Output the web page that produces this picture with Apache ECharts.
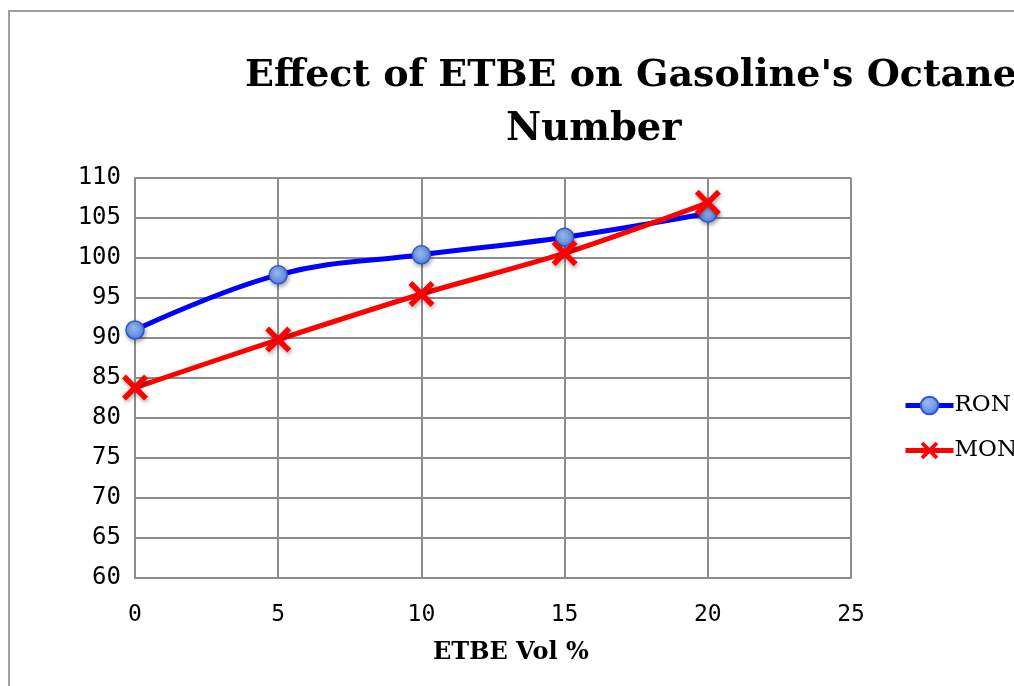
<!DOCTYPE html>
<html>
<head>
<meta charset="utf-8">
<script src="https://cdn.jsdelivr.net/npm/echarts@6/dist/echarts.min.js"></script>
<style>
  html, body { margin: 0; padding: 0; background: #fff; }
  #chart { width: 1014px; height: 686px; }
</style>
</head>
<body>
<div id="chart"></div>
<script>
// ETBE blend levels (vol %) and measured octane numbers
const etbeVol = [0, 5, 10, 15, 20];
const ron = [91.0, 97.9, 100.4, 102.6, 105.6];
const mon = [83.8, 89.8, 95.5, 100.6, 106.9];

const titleLine1 = "Effect of ETBE on Gasoline's Octane";
const titleLine2 = "Number";
const xAxisTitle = "ETBE Vol %";

const crossPath = 'path://M0,3 L3,0 L10,7 L17,0 L20,3 L13,10 L20,17 L17,20 L10,13 L3,20 L0,17 L7,10 Z';
const gridColor = '#8c8c8c';

const chart = echarts.init(document.getElementById('chart'), null, { renderer: 'canvas' });

chart.setOption({
  backgroundColor: '#ffffff',
  animation: false,
  graphic: [
    {
      type: 'rect',
      shape: { x: 9, y: 11, width: 1200, height: 900 },
      style: { fill: 'none', stroke: '#a0a0a0', lineWidth: 2 },
      silent: true
    },
    {
      type: 'text', left: 245, top: 57,
      style: { text: titleLine1, font: 'bold 38px "DejaVu Serif"', fill: '#000' }
    },
    {
      type: 'text', left: 506, top: 110,
      style: { text: titleLine2, font: 'bold 38.5px "DejaVu Serif"', fill: '#000' }
    },
    {
      type: 'text', left: 433, top: 641,
      style: { text: xAxisTitle, font: 'bold 24px "DejaVu Serif"', fill: '#000' }
    }
  ],
  legend: {
    orient: 'vertical',
    left: 898, top: 389,
    itemWidth: 48, itemHeight: 22, itemGap: 22,
    lineStyle: { width: 5 },
    textStyle: { fontFamily: 'DejaVu Serif', fontSize: 23, color: '#000', padding: [0, 0, 0, -4] },
    data: ['RON', 'MON']
  },
  grid: { left: 135, right: 163, top: 178, bottom: 108, containLabel: false },
  xAxis: {
    type: 'value',
    min: 0, max: 25, interval: 5,
    axisLine: { show: true, lineStyle: { color: gridColor, width: 2 } },
    axisTick: { show: false },
    axisLabel: { fontFamily: 'DejaVu Sans Mono', fontSize: 23, color: '#000', margin: 26 },
    splitLine: { show: true, lineStyle: { color: gridColor, width: 2 } }
  },
  yAxis: {
    type: 'value',
    min: 60, max: 110, interval: 5,
    axisLine: { show: true, lineStyle: { color: gridColor, width: 2 } },
    axisTick: { show: false },
    axisLabel: { fontFamily: 'DejaVu Sans Mono', fontSize: 24, color: '#000', margin: 14 },
    splitLine: { show: true, lineStyle: { color: gridColor, width: 2 } }
  },
  series: [
    {
      name: 'RON',
      type: 'line',
      data: etbeVol.map((x, i) => [x, ron[i]]),
      smooth: 0.4,
      lineStyle: { color: '#0000ff', width: 5 },
      symbol: 'circle',
      symbolSize: 18,
      itemStyle: {
        color: new echarts.graphic.RadialGradient(0.4, 0.35, 0.7, [
          { offset: 0, color: '#9cbcf2' },
          { offset: 1, color: '#4f7fe0' }
        ]),
        borderColor: '#2f55d4',
        borderWidth: 1.5,
        shadowBlur: 4, shadowColor: 'rgba(0,0,0,0.35)', shadowOffsetX: 1, shadowOffsetY: 2
      },
      z: 2
    },
    {
      name: 'MON',
      type: 'line',
      data: etbeVol.map((x, i) => [x, mon[i]]),
      smooth: 0.3,
      lineStyle: { color: '#ff0000', width: 5 },
      symbol: crossPath,
      symbolSize: 26,
      itemStyle: {
        color: '#ff0000',
        shadowBlur: 4, shadowColor: 'rgba(0,0,0,0.35)', shadowOffsetX: 1, shadowOffsetY: 2
      },
      z: 3
    }
  ]
});
</script>
</body>
</html>
